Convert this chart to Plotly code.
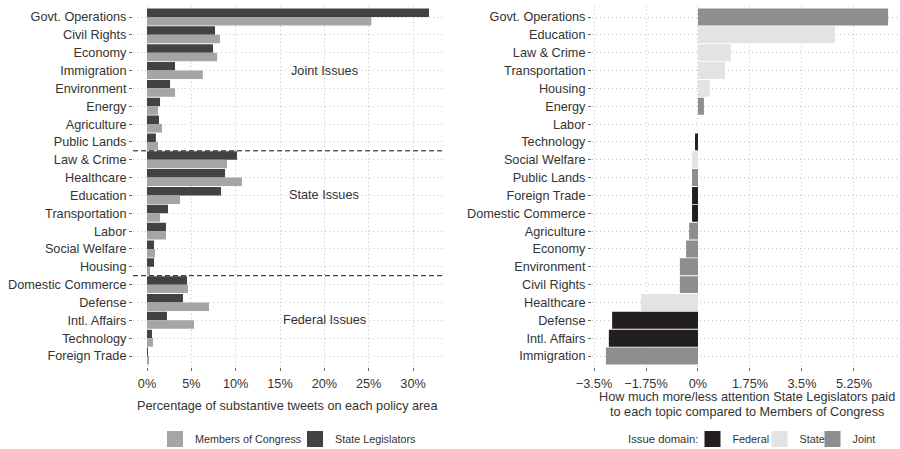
import plotly.graph_objects as go

# ---------------- data ----------------
left_categories = ["Govt. Operations", "Civil Rights", "Economy", "Immigration", "Environment",
                   "Energy", "Agriculture", "Public Lands", "Law & Crime", "Healthcare",
                   "Education", "Transportation", "Labor", "Social Welfare", "Housing",
                   "Domestic Commerce", "Defense", "Intl. Affairs", "Technology", "Foreign Trade"]
state_legislators = [31.8, 7.67, 7.44, 3.16, 2.6, 1.47, 1.35, 1.0, 10.15, 8.8,
                     8.35, 2.37, 2.14, 0.79, 0.79, 4.51, 4.06, 2.25, 0.56, 0.1]
members_of_congress = [25.3, 8.23, 7.9, 6.3, 3.16, 1.24, 1.69, 1.24, 9.02, 10.7,
                       3.72, 1.47, 2.14, 0.9, 0.34, 4.62, 6.99, 5.3, 0.68, 0.22]
group_labels = ["Joint Issues", "State Issues", "Federal Issues"]
group_label_rows = ["Immigration", "Education", "Intl. Affairs"]
left_ticks = [0, 5, 10, 15, 20, 25, 30]
left_ticktext = ["0%", "5%", "10%", "15%", "20%", "25%", "30%"]

right_categories = ["Govt. Operations", "Education", "Law & Crime", "Transportation", "Housing",
                    "Energy", "Labor", "Technology", "Social Welfare", "Public Lands",
                    "Foreign Trade", "Domestic Commerce", "Agriculture", "Economy", "Environment",
                    "Civil Rights", "Healthcare", "Defense", "Intl. Affairs", "Immigration"]
difference = [6.40, 4.61, 1.11, 0.91, 0.40, 0.20, 0.0, -0.10, -0.20, -0.20,
              -0.20, -0.20, -0.30, -0.40, -0.61, -0.61, -1.92, -2.89, -3.00, -3.10]
domain = ["Joint", "State", "State", "State", "State", "Joint", "State", "Federal", "State", "Joint",
          "Federal", "Federal", "Joint", "Joint", "Joint", "Joint", "State", "Federal", "Federal", "Joint"]
domains = ["Federal", "State", "Joint"]
right_ticks = [-3.5, -1.75, 0, 1.75, 3.5, 5.25]
right_ticktext = ["\u22123.5%", "\u22121.75%", "0%", "1.75%", "3.5%", "5.25%"]

# ---------------- style ----------------
C_SL = "#424244"
C_MC = "#a3a5a7"
C_DOM = {"Federal": "#231f20", "State": "#e2e3e4", "Joint": "#8d8e90"}
TXT = "#333333"
FONT = "Liberation Sans, Arial, Helvetica, sans-serif"
GRID = "#c4c4c4"
FS = 12.7
LFS = 10.8

W, H = 900, 449


def py(px):
    """pixel row (from top) -> paper fraction"""
    return 1 - px / H


fig = go.Figure()

# left panel bars (first trace sits on top of each pair because axis is reversed)
fig.add_trace(go.Bar(y=left_categories, x=state_legislators, orientation="h",
                     marker=dict(color=C_SL, line=dict(width=0)), name="State Legislators",
                     xaxis="x", yaxis="y", showlegend=False))
fig.add_trace(go.Bar(y=left_categories, x=members_of_congress, orientation="h",
                     marker=dict(color=C_MC, line=dict(width=0)), name="Members of Congress",
                     xaxis="x", yaxis="y", showlegend=False))

# right panel bars, one trace per issue domain sharing one slot
for d in domains:
    ys = [c for c, dm in zip(right_categories, domain) if dm == d]
    xs = [v for v, dm in zip(difference, domain) if dm == d]
    fig.add_trace(go.Bar(y=ys, x=xs, orientation="h", offsetgroup="diff",
                         marker=dict(color=C_DOM[d], line=dict(width=0)), name=d,
                         xaxis="x2", yaxis="y2", showlegend=False))

# legend entries (square keys)
for name, col, rank in [("Members of Congress", C_MC, 1), ("State Legislators", C_SL, 2)]:
    fig.add_trace(go.Scatter(x=[None], y=[None], mode="markers", name=name,
                             marker=dict(symbol="square", size=17, color=col, line=dict(width=0)),
                             xaxis="x", yaxis="y", legend="legend", legendrank=rank))
right_legends = ["legend2", "legend3", "legend4"]
right_key_centers = [713, 780, 833]
for d, lg in zip(domains, right_legends):
    fig.add_trace(go.Scatter(x=[None], y=[None], mode="markers", name=d,
                             marker=dict(symbol="square", size=17, color=C_DOM[d], line=dict(width=0)),
                             xaxis="x2", yaxis="y2", legend=lg))

ydom = [py(366.7), py(6.3)]
common_y = dict(type="category", range=[19.6, -0.6], showgrid=True, gridcolor=GRID, griddash="1px,3px",
                gridwidth=1, zeroline=False, showline=False, ticks="outside", ticklen=3,
                tickcolor="#666666", tickwidth=1, tickfont=dict(size=FS, color=TXT, family=FONT),
                automargin=False, domain=ydom, fixedrange=True)
common_x = dict(showgrid=True, gridcolor=GRID, griddash="1px,3px", gridwidth=1, zeroline=False,
                showline=False, ticks="outside", ticklen=3, tickcolor="#666666", tickwidth=1,
                tickfont=dict(size=FS, color=TXT, family=FONT), automargin=False, fixedrange=True,
                ticklabelstandoff=2)

legend_common = dict(orientation="h", xanchor="left", y=py(439), yanchor="middle",
                     font=dict(size=LFS, color=TXT, family=FONT), itemwidth=30,
                     bgcolor="rgba(0,0,0,0)")

layout_legends = {"legend": dict(legend_common, x=155 / W, entrywidth=95)}
for lg, cx in zip(right_legends, right_key_centers):
    layout_legends[lg] = dict(legend_common, x=(cx - 20.5) / W)

fig.update_layout(
    width=W, height=H,
    margin=dict(l=0, r=0, t=0, b=0, autoexpand=False),
    paper_bgcolor="white", plot_bgcolor="white",
    barmode="group", bargap=0.05, bargroupgap=0,
    font=dict(family=FONT, color=TXT, size=FS),
    xaxis=dict(common_x, domain=[133 / W, 443 / W], range=[-1.579, 33.38],
               tickvals=left_ticks, ticktext=left_ticktext, anchor="y"),
    yaxis=dict(common_y, categoryarray=left_categories, categoryorder="array", anchor="x"),
    xaxis2=dict(common_x, domain=[592 / W, 1.0], range=[-3.568, 6.80],
                tickvals=right_ticks, ticktext=right_ticktext, anchor="y2"),
    yaxis2=dict(common_y, categoryarray=right_categories, categoryorder="array", anchor="x2"),
    showlegend=True,
    **layout_legends,
)

# dashed separators between issue groups
for yv in [7.5, 14.5]:
    fig.add_shape(type="line", xref="x domain", yref="y", x0=0, x1=1, y0=yv, y1=yv,
                  line=dict(color="#111111", width=1, dash="5px,3px"))

for lab, row in zip(group_labels, group_label_rows):
    fig.add_annotation(x=20, y=row, xref="x", yref="y", text=lab, showarrow=False,
                       font=dict(size=FS, color=TXT, family=FONT), xanchor="center", yanchor="middle")

fig.add_annotation(x=287 / W, y=py(406), xref="paper", yref="paper",
                   text="Percentage of substantive tweets on each policy area", showarrow=False,
                   font=dict(size=FS, color=TXT, family=FONT), xanchor="center", yanchor="middle")
for txt, yy in [("How much more/less attention State Legislators paid", 397),
                ("to each topic compared to Members of Congress", 412)]:
    fig.add_annotation(x=747 / W, y=py(yy), xref="paper", yref="paper", text=txt,
                       showarrow=False, font=dict(size=FS, color=TXT, family=FONT),
                       xanchor="center", yanchor="middle")

# legend title for the issue-domain keys
fig.add_annotation(x=700 / W, y=py(439), xref="paper", yref="paper", text="Issue domain:",
                   showarrow=False, font=dict(size=11.3, color=TXT, family=FONT),
                   xanchor="right", yanchor="middle")

fig.write_html("out.html", config={"displayModeBar": False},
               post_script="document.body.style.margin='0';document.body.style.overflow='hidden';")
